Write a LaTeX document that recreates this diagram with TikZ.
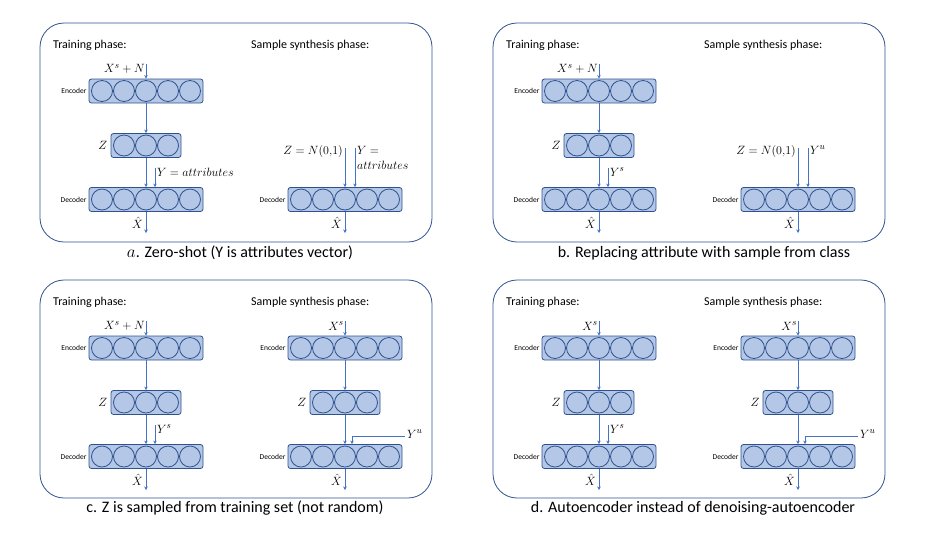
\documentclass[tikz,border=0pt]{standalone}
\usepackage[no-math]{fontspec}
\setmainfont{Carlito}
\usepackage{tikz}
\usetikzlibrary{positioning, calc, arrows.meta}
\definecolor{aeBlue}{RGB}{47, 82, 143}
\definecolor{aeFill}{RGB}{180, 199, 231}
\definecolor{aeArrow}{RGB}{68, 114, 196}
\tikzset{
    panel/.style={
        draw=aeBlue,
        line width=0.8pt,
        rounded corners=24pt
    },
    phase/.style={
        font=\fontsize{12}{14}\selectfont,
        anchor=west,
        inner sep=0pt
    },
    caption/.style={
        font=\fontsize{16}{18}\selectfont,
        inner sep=0pt
    },
    layer/.style={
        rectangle,
        rounded corners=2.5pt,
        draw=aeBlue,
        line width=0.8pt,
        fill=aeFill,
        minimum height=24pt,
        inner sep=0pt
    },
    wide/.style={layer, minimum width=114pt},
    narrow/.style={layer, minimum width=70pt},
    cell/.style={
        draw=aeBlue,
        line width=0.8pt
    },
    tag/.style={
        font=\fontsize{7.5}{9}\selectfont,
        inner sep=0pt
    },
    sym/.style={
        font=\fontsize{12.5}{14}\selectfont,
        inner sep=0pt
    },
    flow/.style={
        -{Stealth[length=3.5pt, width=3.5pt]},
        draw=aeArrow,
        line width=0.8pt
    }
}
\newcommand{\cells}[2]{\foreach \k in {#2} {\draw[cell] ($(#1)+(22*\k,0)$) circle (10.5);}}

\begin{document}
\begin{tikzpicture}[x=1pt, y=-1pt]
  \useasboundingbox (0,0) rectangle (929,542);

  % a. Zero-shot
  \draw[panel] (40,23) rectangle (432,242);
  \node[phase] (atrain) at (53,45) {Training phase:};
  \node[phase] (asynth) at (251,45) {Sample synthesis phase:};
  \node[wide] (aenc) at (146,91) {};
  \cells{aenc}{-2,...,2}
  \node[narrow] (alat) at (146,145.5) {};
  \cells{alat}{-1,0,1}
  \node[wide] (adec) at (146,199.5) {};
  \cells{adec}{-2,...,2}
  \node[tag, left=2pt of aenc] {Encoder};
  \node[sym, left=3pt of alat] {$Z$};
  \node[tag, left=2pt of adec] {Decoder};
  \coordinate (ain) at (146,64);
  \coordinate (ayin) at (155,168);
  \coordinate (aout) at (146,233);
  \draw[flow] (ain) -- (aenc);
  \draw[flow] (aenc) -- (alat);
  \draw[flow] (alat) -- (adec);
  \draw[flow] (ayin) -- (ayin |- adec.north);
  \draw[flow] (adec) -- (aout);
  \node[sym, anchor=east] at (145,69) {$X^s+N$};
  \node[sym, anchor=west] at (157,172) {$Y=attributes$};
  \node[sym, anchor=east] at (143,223) {$\hat{X}$};
  % synthesis
  \node[wide] (asdec) at (345,199.5) {};
  \cells{asdec}{-2,...,2}
  \node[tag, left=2pt of asdec] {Decoder};
  \coordinate (aszin) at (345,148);
  \coordinate (asyin) at (355,148);
  \coordinate (asout) at (345,233);
  \draw[flow] (aszin) -- (asdec);
  \draw[flow] (asyin) -- (asyin |- asdec.north);
  \draw[flow] (asdec) -- (asout);
  \node[sym, anchor=east] at (343,151) {$Z=N(0{,}1)$};
  \node[sym, anchor=west] at (357,150) {$Y=$};
  \node[sym, anchor=west] at (357,165) {$attributes$};
  \node[sym, anchor=east] at (342,223) {$\hat{X}$};
  \node[caption] (acap) at (240,253) {$a$. Zero-shot (Y is attributes vector)};

  % b. Replacing attribute
  \begin{scope}[shift={(453,0)}]
    \draw[panel] (40,23) rectangle (432,242);
    \node[phase] (btrain) at (53,45) {Training phase:};
    \node[phase] (bsynth) at (251,45) {Sample synthesis phase:};
    \node[wide] (benc) at (146,91) {};
    \cells{benc}{-2,...,2}
    \node[narrow] (blat) at (146,145.5) {};
    \cells{blat}{-1,0,1}
    \node[wide] (bdec) at (146,199.5) {};
    \cells{bdec}{-2,...,2}
    \node[tag, left=2pt of benc] {Encoder};
    \node[sym, left=3pt of blat] {$Z$};
    \node[tag, left=2pt of bdec] {Decoder};
    \coordinate (bin) at (146,64);
    \coordinate (byin) at (155,168);
    \coordinate (bout) at (146,233);
    \draw[flow] (bin) -- (benc);
    \draw[flow] (benc) -- (blat);
    \draw[flow] (blat) -- (bdec);
    \draw[flow] (byin) -- (byin |- bdec.north);
    \draw[flow] (bdec) -- (bout);
    \node[sym, anchor=east] at (145,69) {$X^s+N$};
    \node[sym, anchor=west] at (157,172) {$Y^s$};
    \node[sym, anchor=east] at (143,223) {$\hat{X}$};
    % synthesis
    \node[wide] (bsdec) at (345,199.5) {};
    \cells{bsdec}{-2,...,2}
    \node[tag, left=2pt of bsdec] {Decoder};
    \coordinate (bszin) at (345,148);
    \coordinate (bsyin) at (355,148);
    \coordinate (bsout) at (345,233);
    \draw[flow] (bszin) -- (bsdec);
    \draw[flow] (bsyin) -- (bsyin |- bsdec.north);
    \draw[flow] (bsdec) -- (bsout);
    \node[sym, anchor=east] at (343,151) {$Z=N(0{,}1)$};
    \node[sym, anchor=west] at (357,150) {$Y^u$};
    \node[sym, anchor=east] at (342,223) {$\hat{X}$};
    \node[caption] (bcap) at (251,253) {b. Replacing attribute with sample from class};
  \end{scope}

  % c. Z sampled from training set
  \begin{scope}[shift={(0,257)}]
    \draw[panel] (40,23) rectangle (432,241);
    \node[phase] (ctrain) at (53,45) {Training phase:};
    \node[phase] (csynth) at (251,45) {Sample synthesis phase:};
    \node[wide] (cenc) at (146,91) {};
    \cells{cenc}{-2,...,2}
    \node[narrow] (clat) at (146,145.5) {};
    \cells{clat}{-1,0,1}
    \node[wide] (cdec) at (146,199.5) {};
    \cells{cdec}{-2,...,2}
    \node[tag, left=2pt of cenc] {Encoder};
    \node[sym, left=3pt of clat] {$Z$};
    \node[tag, left=2pt of cdec] {Decoder};
    \coordinate (cin) at (146,64);
    \coordinate (cyin) at (155,168);
    \coordinate (cout) at (146,233);
    \draw[flow] (cin) -- (cenc);
    \draw[flow] (cenc) -- (clat);
    \draw[flow] (clat) -- (cdec);
    \draw[flow] (cyin) -- (cyin |- cdec.north);
    \draw[flow] (cdec) -- (cout);
    \node[sym, anchor=east] at (145,69) {$X^s+N$};
    \node[sym, anchor=west] at (157,172) {$Y^s$};
    \node[sym, anchor=east] at (143,223) {$\hat{X}$};
    % synthesis
    \node[wide] (csenc) at (345,91) {};
    \cells{csenc}{-2,...,2}
    \node[narrow] (cslat) at (345,145.5) {};
    \cells{cslat}{-1,0,1}
    \node[wide] (csdec) at (345,199.5) {};
    \cells{csdec}{-2,...,2}
    \node[tag, left=2pt of csenc] {Encoder};
    \node[sym, left=3pt of cslat] {$Z$};
    \node[tag, left=2pt of csdec] {Decoder};
    \coordinate (csin) at (345,64);
    \coordinate (csyu) at (405,179);
    \coordinate (csyt) at (352,179);
    \coordinate (csout) at (345,233);
    \draw[flow] (csin) -- (csenc);
    \draw[flow] (csenc) -- (cslat);
    \draw[flow] (cslat) -- (csdec);
    \draw[flow] (csyu) -- (csyt) -- (csyt |- csdec.north);
    \draw[flow] (csdec) -- (csout);
    \node[sym, anchor=east] at (344,69) {$X^s$};
    \node[sym, anchor=west] at (407,177) {$Y^u$};
    \node[sym, anchor=east] at (342,223) {$\hat{X}$};
    \node[caption] (ccap) at (235,251) {c. Z is sampled from training set (not random)};
  \end{scope}

  % d. Autoencoder
  \begin{scope}[shift={(453,257)}]
    \draw[panel] (40,23) rectangle (432,241);
    \node[phase] (dtrain) at (53,45) {Training phase:};
    \node[phase] (dsynth) at (251,45) {Sample synthesis phase:};
    \node[wide] (denc) at (146,91) {};
    \cells{denc}{-2,...,2}
    \node[narrow] (dlat) at (146,145.5) {};
    \cells{dlat}{-1,0,1}
    \node[wide] (ddec) at (146,199.5) {};
    \cells{ddec}{-2,...,2}
    \node[tag, left=2pt of denc] {Encoder};
    \node[sym, left=3pt of dlat] {$Z$};
    \node[tag, left=2pt of ddec] {Decoder};
    \coordinate (din) at (146,64);
    \coordinate (dyin) at (155,168);
    \coordinate (dout) at (146,233);
    \draw[flow] (din) -- (denc);
    \draw[flow] (denc) -- (dlat);
    \draw[flow] (dlat) -- (ddec);
    \draw[flow] (dyin) -- (dyin |- ddec.north);
    \draw[flow] (ddec) -- (dout);
    \node[sym, anchor=east] at (145,69) {$X^s$};
    \node[sym, anchor=west] at (157,172) {$Y^s$};
    \node[sym, anchor=east] at (143,223) {$\hat{X}$};
    % synthesis
    \node[wide] (dsenc) at (345,91) {};
    \cells{dsenc}{-2,...,2}
    \node[narrow] (dslat) at (345,145.5) {};
    \cells{dslat}{-1,0,1}
    \node[wide] (dsdec) at (345,199.5) {};
    \cells{dsdec}{-2,...,2}
    \node[tag, left=2pt of dsenc] {Encoder};
    \node[sym, left=3pt of dslat] {$Z$};
    \node[tag, left=2pt of dsdec] {Decoder};
    \coordinate (dsin) at (345,64);
    \coordinate (dsyu) at (405,179);
    \coordinate (dsyt) at (352,179);
    \coordinate (dsout) at (345,233);
    \draw[flow] (dsin) -- (dsenc);
    \draw[flow] (dsenc) -- (dslat);
    \draw[flow] (dslat) -- (dsdec);
    \draw[flow] (dsyu) -- (dsyt) -- (dsyt |- dsdec.north);
    \draw[flow] (dsdec) -- (dsout);
    \node[sym, anchor=east] at (344,69) {$X^s$};
    \node[sym, anchor=west] at (407,177) {$Y^u$};
    \node[sym, anchor=east] at (342,223) {$\hat{X}$};
    \node[caption] (dcap) at (240,251) {d. Autoencoder instead of denoising-autoencoder};
  \end{scope}

\end{tikzpicture}
\end{document}
